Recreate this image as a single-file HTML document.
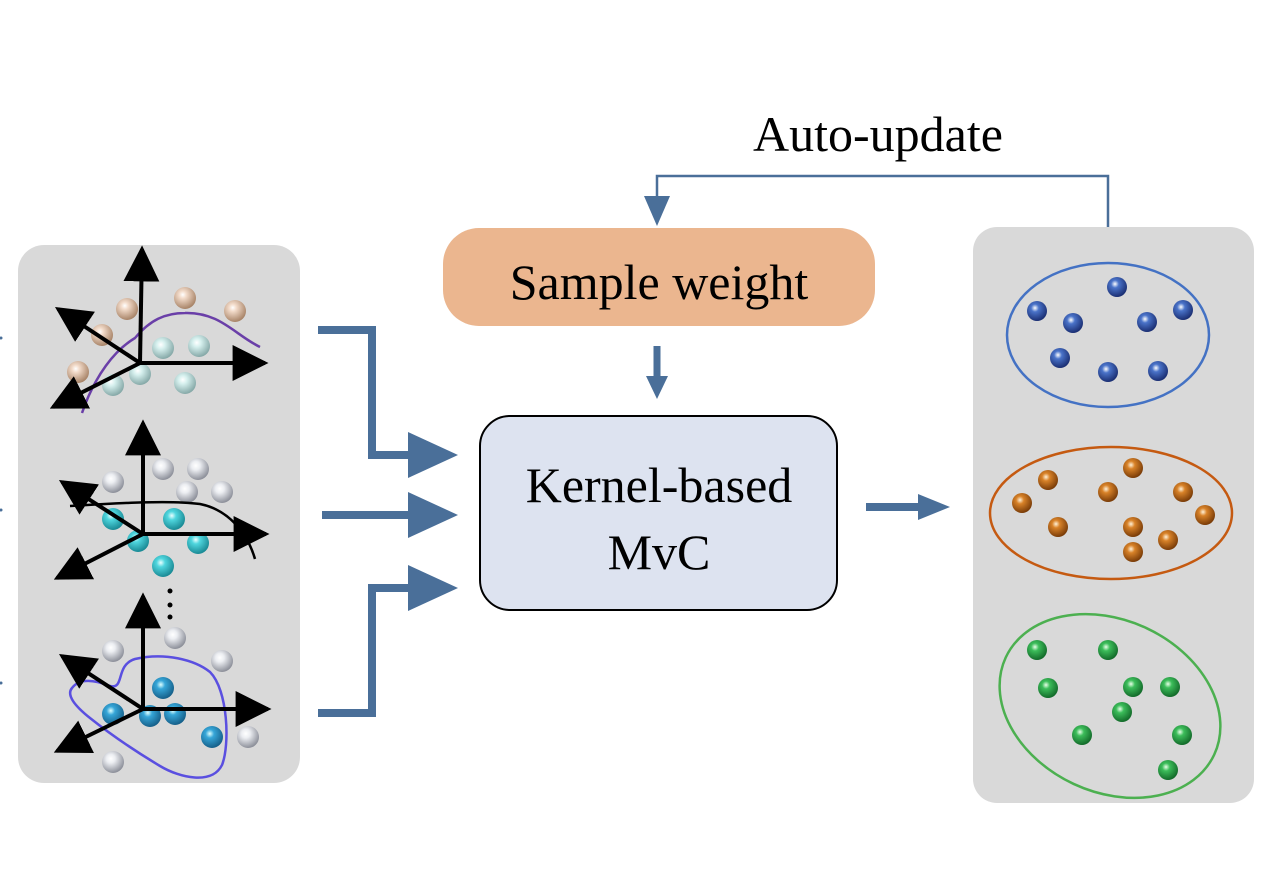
<!DOCTYPE html>
<html><head><meta charset="utf-8"><style>
html,body{margin:0;padding:0;background:#fff;}
svg{display:block;}
text{font-family:"Liberation Serif",serif;fill:#000;}
</style></head><body>
<svg width="1276" height="892" viewBox="0 0 1276 892" xmlns="http://www.w3.org/2000/svg">
<defs>
<radialGradient id="gB" cx="40%" cy="35%" r="65%"><stop offset="0" stop-color="#fff"/><stop offset="0.25" stop-color="#f3dccb"/><stop offset="1" stop-color="#a88468"/></radialGradient>
<radialGradient id="gC" cx="40%" cy="35%" r="65%"><stop offset="0" stop-color="#fff"/><stop offset="0.3" stop-color="#d6f0ee"/><stop offset="1" stop-color="#86a9a8"/></radialGradient>
<radialGradient id="gW" cx="40%" cy="35%" r="65%"><stop offset="0" stop-color="#fff"/><stop offset="0.3" stop-color="#eceef2"/><stop offset="1" stop-color="#8d909a"/></radialGradient>
<radialGradient id="gT" cx="40%" cy="35%" r="65%"><stop offset="0" stop-color="#eaffff"/><stop offset="0.3" stop-color="#4fd6de"/><stop offset="1" stop-color="#1a8a95"/></radialGradient>
<radialGradient id="gL" cx="40%" cy="35%" r="65%"><stop offset="0" stop-color="#dff"/><stop offset="0.3" stop-color="#36a6d8"/><stop offset="1" stop-color="#16608a"/></radialGradient>
<radialGradient id="gBl" cx="40%" cy="35%" r="65%"><stop offset="0" stop-color="#fff"/><stop offset="0.3" stop-color="#4a73c9"/><stop offset="1" stop-color="#1b2f73"/></radialGradient>
<radialGradient id="gO" cx="40%" cy="35%" r="65%"><stop offset="0" stop-color="#fff1d8"/><stop offset="0.3" stop-color="#d88228"/><stop offset="1" stop-color="#7a3c08"/></radialGradient>
<radialGradient id="gG" cx="40%" cy="35%" r="65%"><stop offset="0" stop-color="#e8ffe8"/><stop offset="0.3" stop-color="#3cbd5a"/><stop offset="1" stop-color="#136b2a"/></radialGradient>
<marker id="ah" viewBox="0 0 10 10" refX="9" refY="5" markerWidth="9" markerHeight="9" orient="auto" markerUnits="strokeWidth"><path d="M0,0 L10,5 L0,10 z" fill="#000"/></marker>
</defs>

<rect x="18" y="245" width="282" height="538" rx="26" fill="#d9d9d9"/>
<circle cx="1" cy="338" r="1.5" fill="#4a6f99"/><circle cx="1" cy="510" r="1.5" fill="#4a6f99"/><circle cx="1" cy="683" r="1.5" fill="#4a6f99"/>

<g>
<circle cx="127" cy="309" r="11" fill="url(#gB)"/><circle cx="185" cy="298" r="11" fill="url(#gB)"/><circle cx="235" cy="311" r="11" fill="url(#gB)"/><circle cx="102" cy="335" r="11" fill="url(#gB)"/><circle cx="78" cy="372" r="11" fill="url(#gB)"/>
<circle cx="163" cy="348" r="11" fill="url(#gC)"/><circle cx="199" cy="346" r="11" fill="url(#gC)"/><circle cx="140" cy="374" r="11" fill="url(#gC)"/><circle cx="113" cy="385" r="11" fill="url(#gC)"/><circle cx="185" cy="383" r="11" fill="url(#gC)"/>
<path d="M82,413 C95,375 115,350 135,338 C150,320 165,313 185,313 C220,312 235,335 260,347" fill="none" stroke="#6a3fa8" stroke-width="2.5"/>
<g stroke="#000" stroke-width="4" marker-end="url(#ah)"><line x1="140" y1="363" x2="142" y2="249"/><line x1="140" y1="363" x2="265" y2="363"/><line x1="140" y1="363" x2="58" y2="309"/><line x1="140" y1="363" x2="53" y2="407"/></g>
</g>
<g>
<circle cx="113" cy="482" r="11" fill="url(#gW)"/><circle cx="163" cy="469" r="11" fill="url(#gW)"/><circle cx="198" cy="469" r="11" fill="url(#gW)"/><circle cx="187" cy="492" r="11" fill="url(#gW)"/><circle cx="222" cy="492" r="11" fill="url(#gW)"/>
<circle cx="113" cy="519" r="11" fill="url(#gT)"/><circle cx="174" cy="519" r="11" fill="url(#gT)"/><circle cx="138" cy="541" r="11" fill="url(#gT)"/><circle cx="198" cy="543" r="11" fill="url(#gT)"/><circle cx="163" cy="566" r="11" fill="url(#gT)"/>
<path d="M70,506 C120,503 170,500 200,504 C230,510 248,535 255,559" fill="none" stroke="#000" stroke-width="2.5"/>
<g stroke="#000" stroke-width="4" marker-end="url(#ah)"><line x1="143" y1="534" x2="143" y2="423"/><line x1="143" y1="534" x2="266" y2="534"/><line x1="143" y1="534" x2="62" y2="482"/><line x1="143" y1="534" x2="57" y2="578"/></g>
<circle cx="170" cy="591" r="2.5" fill="#000"/><circle cx="170" cy="605" r="2.5" fill="#000"/><circle cx="170" cy="617" r="2.5" fill="#000"/>
</g>
<g>
<circle cx="113" cy="651" r="11" fill="url(#gW)"/><circle cx="175" cy="638" r="11" fill="url(#gW)"/><circle cx="222" cy="661" r="11" fill="url(#gW)"/><circle cx="248" cy="737" r="11" fill="url(#gW)"/><circle cx="113" cy="762" r="11" fill="url(#gW)"/>
<circle cx="163" cy="688" r="11" fill="url(#gL)"/><circle cx="113" cy="714" r="11" fill="url(#gL)"/><circle cx="150" cy="716" r="11" fill="url(#gL)"/><circle cx="175" cy="714" r="11" fill="url(#gL)"/><circle cx="212" cy="737" r="11" fill="url(#gL)"/>
<path d="M72,688 C78,680 90,678 110,686 C125,690 115,665 135,659 C165,652 195,660 210,672 C228,690 230,745 222,765 C212,785 180,778 160,766 C130,748 105,730 90,718 C75,706 66,695 72,688 Z" fill="none" stroke="#5a4fe0" stroke-width="2.5"/>
<g stroke="#000" stroke-width="4" marker-end="url(#ah)"><line x1="143" y1="709" x2="143" y2="596"/><line x1="143" y1="709" x2="268" y2="709"/><line x1="143" y1="709" x2="62" y2="656"/><line x1="143" y1="709" x2="57" y2="751"/></g>
</g>

<g fill="none" stroke="#4a6f99" stroke-width="8">
<path d="M318,330 L372,330 L372,455 L412,455"/>
<path d="M322,515 L412,515"/>
<path d="M318,713 L372,713 L372,588 L412,588"/>
<path d="M866,507 L922,507"/>
</g>
<g fill="#4a6f99">
<path d="M408,432 L458,455 L408,478 Z"/>
<path d="M408,492 L458,515 L408,538 Z"/>
<path d="M408,565 L458,588 L408,611 Z"/>
<path d="M918,494 L950,507 L918,520 Z"/>
</g>

<rect x="443" y="228" width="432" height="98" rx="36" fill="#ebb68f"/>
<text x="659" y="299" font-size="50" text-anchor="middle">Sample weight</text>
<line x1="657" y1="346" x2="657" y2="380" stroke="#4a6f99" stroke-width="7"/>
<path d="M646,376 L668,376 L657,399 Z" fill="#4a6f99"/>
<rect x="480" y="416" width="357" height="194" rx="30" fill="#dde3f0" stroke="#000" stroke-width="2"/>
<text x="659" y="502" font-size="50" text-anchor="middle">Kernel-based</text>
<text x="659" y="569" font-size="50" text-anchor="middle">MvC</text>

<path d="M1108,228 L1108,176 L657,176 L657,200" fill="none" stroke="#4a6f99" stroke-width="2.5"/>
<path d="M644,196 L670,196 L657,226 Z" fill="#4a6f99"/>
<text x="878" y="151" font-size="50" text-anchor="middle">Auto-update</text>

<rect x="973" y="227" width="281" height="576" rx="24" fill="#d9d9d9"/>
<ellipse cx="1108" cy="335" rx="101" ry="72" fill="none" stroke="#4472c4" stroke-width="2.5"/>
<ellipse cx="1111" cy="513" rx="121" ry="66" fill="none" stroke="#c55a11" stroke-width="2.5"/>
<ellipse cx="1110" cy="706" rx="115" ry="86" transform="rotate(25 1110 706)" fill="none" stroke="#4cb050" stroke-width="2.5"/>
<g fill="url(#gBl)">
<circle cx="1117" cy="287" r="10"/><circle cx="1037" cy="311" r="10"/><circle cx="1073" cy="323" r="10"/><circle cx="1147" cy="322" r="10"/><circle cx="1183" cy="310" r="10"/><circle cx="1060" cy="358" r="10"/><circle cx="1108" cy="372" r="10"/><circle cx="1158" cy="371" r="10"/>
</g>
<g fill="url(#gO)">
<circle cx="1133" cy="468" r="10"/><circle cx="1048" cy="480" r="10"/><circle cx="1108" cy="492" r="10"/><circle cx="1183" cy="492" r="10"/><circle cx="1022" cy="503" r="10"/><circle cx="1205" cy="515" r="10"/><circle cx="1058" cy="527" r="10"/><circle cx="1133" cy="527" r="10"/><circle cx="1168" cy="540" r="10"/><circle cx="1133" cy="552" r="10"/>
</g>
<g fill="url(#gG)">
<circle cx="1037" cy="650" r="10"/><circle cx="1108" cy="650" r="10"/><circle cx="1048" cy="688" r="10"/><circle cx="1133" cy="687" r="10"/><circle cx="1170" cy="687" r="10"/><circle cx="1122" cy="712" r="10"/><circle cx="1082" cy="735" r="10"/><circle cx="1182" cy="735" r="10"/><circle cx="1168" cy="770" r="10"/>
</g>
</svg>
</body></html>
